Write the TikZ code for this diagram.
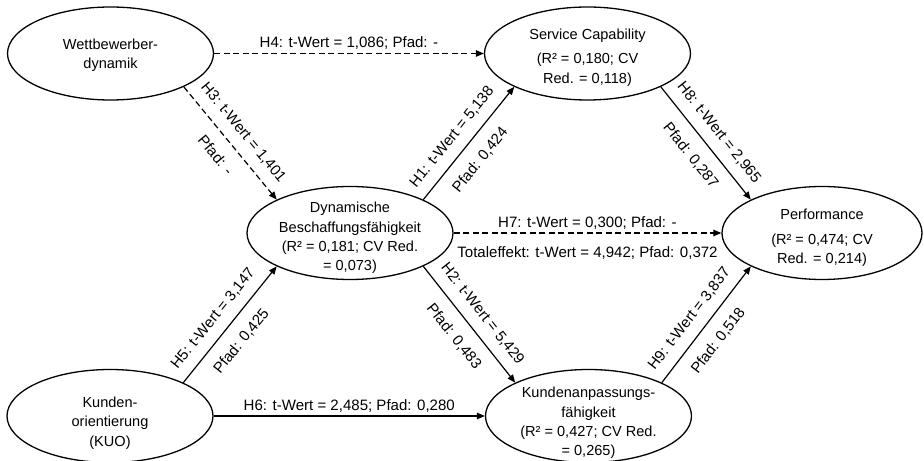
\documentclass[tikz,border=0pt]{standalone}
\usepackage{fontspec}
\setmainfont{Liberation Sans}
\usetikzlibrary{shapes.geometric,arrows.meta}
\begin{document}
\begin{tikzpicture}[x=1bp,y=-1bp,
  construct/.style={ellipse, draw, line width=1.3bp, minimum width=206bp, minimum height=93bp, inner sep=0pt},
  ctext/.style={align=center, inner sep=0pt, font=\fontsize{14.6}{19.5}\selectfont},
  arr/.style={line width=1.2bp, -{Triangle[length=8bp,width=6.5bp]}},
  nonsig/.style={arr, dash pattern=on 6bp off 3.5bp},
  lbl/.style={font=\fontsize{15.1}{18}\selectfont, inner sep=3bp},
  slab/.style={lbl, sloped, midway},
  sabove/.style={slab, above, inner sep=10bp},
  sbelow/.style={slab, below, inner sep=12.5bp},
  upa/.style={sabove, pos=0.46},
  upb/.style={sbelow, pos=0.46}
]
\useasboundingbox (0,0) rectangle (924,461);

\node[construct] (wett) at (110.5,53.5) {};
\node[construct] (serv) at (587.5,53.5) {};
\node[construct] (dyn) at (350,233) {};
\node[construct, minimum width=200bp] (perf) at (822,233) {};
\node[construct] (kuo) at (110,416) {};
\node[construct] (kaf) at (588.5,416) {};

\node[ctext] (wett-t) at ([yshift=-2bp]wett.center) {Wettbewerber-\\dynamik};
\node[ctext] (serv-t) at ([yshift=-4bp]serv.center) {Service Capability\\[5bp](R² = 0,180; CV\\Red. = 0,118)};
\node[ctext] (dyn-t) at ([yshift=-5bp]dyn.center) {Dynamische\\Beschaffungsfähigkeit\\(R² = 0,181; CV Red.\\= 0,073)};
\node[ctext] (perf-t) at ([yshift=-5bp]perf.center) {Performance\\[5bp](R² = 0,474; CV\\Red. = 0,214)};
\node[ctext] (kuo-t) at ([yshift=-7bp]kuo.center) {Kunden-\\orientierung\\(KUO)};
\node[ctext] (kaf-t) at ([yshift=-7bp]kaf.center) {Kundenanpassungs-\\fähigkeit\\(R² = 0,427; CV Red.\\= 0,265)};

\draw[nonsig] (wett.east) -- node[lbl, above] {H4: t-Wert = 1,086; Pfad: -} (serv.west);
\draw[nonsig] (wett.south east) -- node[sabove] {H3: t-Wert = 1,401} node[sbelow] {Pfad: -} (dyn.north west);
\draw[arr] (dyn.north east) -- node[upa] {H1: t-Wert = 5,138} node[upb] {Pfad: 0,424} (serv.south west);
\draw[arr] (serv.south east) -- node[sabove] {H8: t-Wert = 2,965} node[sbelow] {Pfad: 0,287} (perf.north west);
\draw[nonsig] (dyn.east) -- node[lbl, above] {H7: t-Wert = 0,300; Pfad: -} node[lbl, below=10bp] {Totaleffekt: t-Wert = 4,942; Pfad: 0,372} (perf.west);
\draw[arr] (dyn.south east) -- node[sabove] {H2: t-Wert = 5,429} node[sbelow] {Pfad: 0,483} (kaf.north west);
\draw[arr] (kaf.north east) -- node[upa] {H9: t-Wert = 3,837} node[upb] {Pfad: 0,518} (perf.south west);
\draw[arr] (kuo.north east) -- node[upa] {H5: t-Wert = 3,147} node[upb] {Pfad: 0,425} (dyn.south west);
\draw[arr] (kuo.east) -- node[lbl, above] {H6: t-Wert = 2,485; Pfad: 0,280} (kaf.west);
\end{tikzpicture}
\end{document}
